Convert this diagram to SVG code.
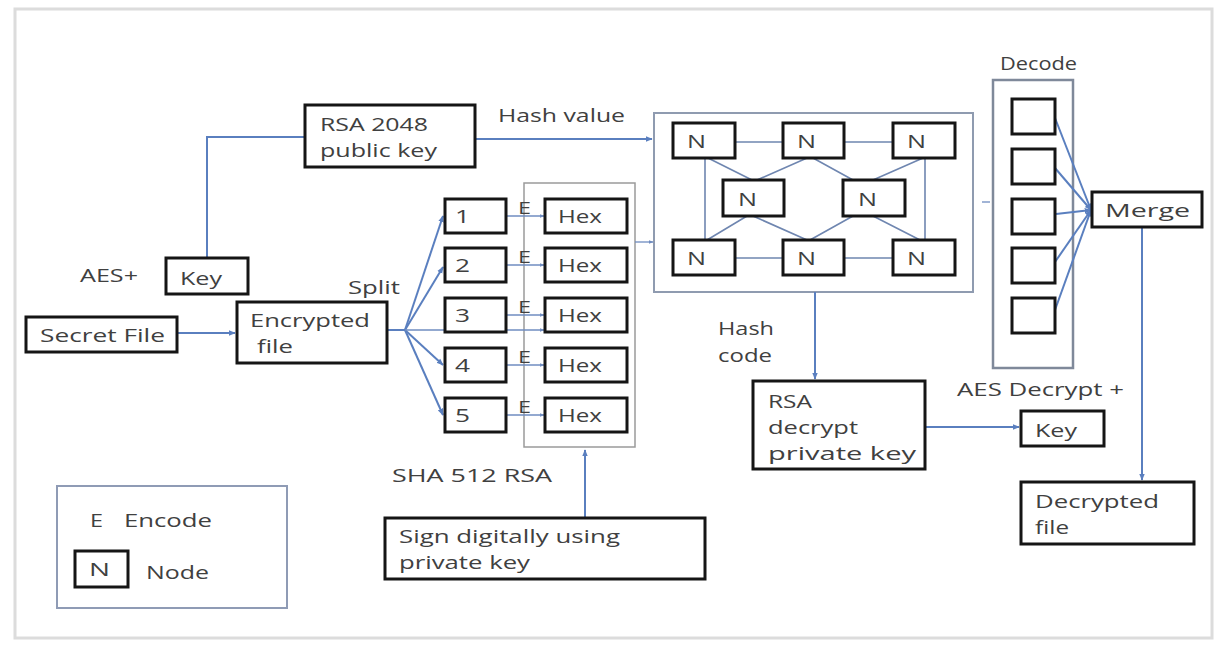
<svg xmlns="http://www.w3.org/2000/svg" width="1216" height="649" viewBox="0 0 1216 649">
  <defs>
    <marker id="arr" viewBox="0 0 10 10" refX="9" refY="5" markerWidth="7" markerHeight="7" orient="auto" markerUnits="userSpaceOnUse">
      <path d="M0,1 L10,5 L0,9 Z" fill="#5a7fbf"/>
    </marker>
    <marker id="arrs" viewBox="0 0 10 10" refX="9" refY="5" markerWidth="5" markerHeight="5" orient="auto" markerUnits="userSpaceOnUse">
      <path d="M0,1 L10,5 L0,9 Z" fill="#6f8cc0"/>
    </marker>
  </defs>
  <style>
    text { font-family: "Open Sans", "Liberation Sans", sans-serif; fill: #404040; }
    .box { fill: #ffffff; stroke: #151515; stroke-width: 3; }
    .frame { fill: none; stroke: #8f9bb0; stroke-width: 2; }
    .hexframe { fill: none; stroke: #9a9a9a; stroke-width: 1.5; }
    .link { fill: none; stroke: #5a7fbf; stroke-width: 2; }
    .thin { fill: none; stroke: #6f8cc0; stroke-width: 1.3; }
    .mesh { fill: none; stroke: #6f86b0; stroke-width: 1.6; }
    .lbl { font-size: 18.5px; }
    .sm { font-size: 18.5px; }
    .xs { font-size: 17px; }
  </style>

  <!-- page border -->
  <rect x="15" y="9" width="1197" height="629" fill="#ffffff" stroke="#dcdcdc" stroke-width="3"/>

  <!-- containers -->
  <rect id="hex-group" class="hexframe" x="524" y="183" width="111" height="264"/>
  <rect id="network" class="frame" x="654" y="113" width="319" height="179"/>
  <rect id="decode-group" x="993" y="80" width="80" height="288" fill="none" stroke="#7f899a" stroke-width="2.5"/>

  <!-- connectors -->
  <g id="connectors">
    <path class="link" d="M207,258 V137 H305"/>
    <path class="link" d="M475,139 H652" marker-end="url(#arr)"/>
    <path class="link" d="M177,333 H235" marker-end="url(#arr)"/>
    <path class="link" d="M387,330 H405"/>
    <path class="link" d="M405,330 L443,216" marker-end="url(#arr)"/>
    <path class="link" d="M405,330 L443,267" marker-end="url(#arr)"/>
    <path class="link" d="M405,330 L443,365" marker-end="url(#arr)"/>
    <path class="link" d="M405,330 L443,415" marker-end="url(#arr)"/>
    <path class="thin" d="M405,330 H544" marker-end="url(#arrs)"/>
    <path class="thin" d="M506,216 H544" marker-end="url(#arrs)"/>
    <path class="thin" d="M506,265 H544" marker-end="url(#arrs)"/>
    <path class="thin" d="M506,315 H544" marker-end="url(#arrs)"/>
    <path class="thin" d="M506,365 H544" marker-end="url(#arrs)"/>
    <path class="thin" d="M506,415 H544" marker-end="url(#arrs)"/>
    <path class="thin" d="M635,242 H653" marker-end="url(#arrs)"/>
    <path class="link" d="M585,518 V450" marker-end="url(#arr)"/>
    <path class="link" d="M815,292 V379" marker-end="url(#arr)"/>
    <path class="link" d="M925,427 H1019" marker-end="url(#arr)"/>
    <path class="thin" d="M982,202 H990"/>
    <path class="link" d="M1055,118 L1091,210" marker-end="url(#arr)"/>
    <path class="link" d="M1055,168 L1091,210" marker-end="url(#arr)"/>
    <path class="link" d="M1056,214 L1091,210" marker-end="url(#arr)"/>
    <path class="link" d="M1055,262 L1091,210" marker-end="url(#arr)"/>
    <path class="link" d="M1055,310 L1091,210" marker-end="url(#arr)"/>
    <path class="link" d="M1142,227 V480" marker-end="url(#arr)"/>
    <!-- mesh inside the network -->
    <path class="mesh" d="M735,142 H783 M844,142 H893 M735,258 H783 M844,258 H893"/>
    <path class="mesh" d="M705,158 V240 M925,158 V240"/>
    <path class="mesh" d="M708,158 L752,180 M807,158 L757,180 M813,158 L853,180 M923,158 L873,180"/>
    <path class="mesh" d="M747,216 L707,240 M753,216 L807,240 M853,216 L810,240 M873,216 L920,240"/>
  </g>

  <!-- labels on connectors -->
  <text class="lbl" x="498" y="122" textLength="127" lengthAdjust="spacingAndGlyphs">Hash value</text>
  <text class="lbl" x="80" y="282" textLength="58" lengthAdjust="spacingAndGlyphs">AES+</text>
  <text class="lbl" x="348" y="294" textLength="52" lengthAdjust="spacingAndGlyphs">Split</text>
  <text class="lbl" x="718" y="335" textLength="56" lengthAdjust="spacingAndGlyphs">Hash</text>
  <text class="lbl" x="718" y="362" textLength="54" lengthAdjust="spacingAndGlyphs">code</text>
  <text class="lbl" x="957" y="396" textLength="167" lengthAdjust="spacingAndGlyphs">AES Decrypt +</text>
  <text class="lbl" x="1000" y="70" textLength="77" lengthAdjust="spacingAndGlyphs">Decode</text>
  <text class="lbl" x="392" y="482" textLength="160" lengthAdjust="spacingAndGlyphs">SHA 512 RSA</text>
  <g class="xs">
    <text x="518" y="214" textLength="13" lengthAdjust="spacingAndGlyphs">E</text>
    <text x="518" y="263" textLength="13" lengthAdjust="spacingAndGlyphs">E</text>
    <text x="518" y="313" textLength="13" lengthAdjust="spacingAndGlyphs">E</text>
    <text x="518" y="363" textLength="13" lengthAdjust="spacingAndGlyphs">E</text>
    <text x="518" y="413" textLength="13" lengthAdjust="spacingAndGlyphs">E</text>
  </g>

  <!-- nodes -->
  <g id="rsa-public">
    <rect class="box" x="305" y="105" width="170" height="62"/>
    <text class="lbl" x="320" y="131" textLength="108" lengthAdjust="spacingAndGlyphs">RSA 2048</text>
    <text class="lbl" x="320" y="157" textLength="117" lengthAdjust="spacingAndGlyphs">public key</text>
  </g>
  <g id="key-in">
    <rect class="box" x="166" y="258" width="82" height="36"/>
    <text class="lbl" x="180" y="285" textLength="42" lengthAdjust="spacingAndGlyphs">Key</text>
  </g>
  <g id="secret-file">
    <rect class="box" x="26" y="317" width="151" height="35"/>
    <text class="lbl" x="40" y="342" textLength="125" lengthAdjust="spacingAndGlyphs">Secret File</text>
  </g>
  <g id="encrypted-file">
    <rect class="box" x="237" y="302" width="150" height="61"/>
    <text class="lbl" x="250" y="327" textLength="120" lengthAdjust="spacingAndGlyphs">Encrypted</text>
    <text class="lbl" x="257" y="353" textLength="36" lengthAdjust="spacingAndGlyphs">file</text>
  </g>

  <g id="part-1"><rect class="box" x="445" y="199" width="61" height="34"/><text class="sm" x="455" y="223" textLength="15" lengthAdjust="spacingAndGlyphs">1</text></g>
  <g id="part-2"><rect class="box" x="445" y="248" width="61" height="34"/><text class="sm" x="455" y="272" textLength="15" lengthAdjust="spacingAndGlyphs">2</text></g>
  <g id="part-3"><rect class="box" x="445" y="298" width="61" height="34"/><text class="sm" x="455" y="322" textLength="15" lengthAdjust="spacingAndGlyphs">3</text></g>
  <g id="part-4"><rect class="box" x="445" y="348" width="61" height="34"/><text class="sm" x="455" y="372" textLength="15" lengthAdjust="spacingAndGlyphs">4</text></g>
  <g id="part-5"><rect class="box" x="445" y="398" width="61" height="34"/><text class="sm" x="455" y="422" textLength="15" lengthAdjust="spacingAndGlyphs">5</text></g>

  <g id="hex-1"><rect class="box" x="545" y="199" width="82" height="34"/><text class="sm" x="558" y="223" textLength="44" lengthAdjust="spacingAndGlyphs">Hex</text></g>
  <g id="hex-2"><rect class="box" x="545" y="248" width="82" height="34"/><text class="sm" x="558" y="272" textLength="44" lengthAdjust="spacingAndGlyphs">Hex</text></g>
  <g id="hex-3"><rect class="box" x="545" y="298" width="82" height="34"/><text class="sm" x="558" y="322" textLength="44" lengthAdjust="spacingAndGlyphs">Hex</text></g>
  <g id="hex-4"><rect class="box" x="545" y="348" width="82" height="34"/><text class="sm" x="558" y="372" textLength="44" lengthAdjust="spacingAndGlyphs">Hex</text></g>
  <g id="hex-5"><rect class="box" x="545" y="398" width="82" height="34"/><text class="sm" x="558" y="422" textLength="44" lengthAdjust="spacingAndGlyphs">Hex</text></g>

  <g id="n-top-1"><rect class="box" x="673" y="123" width="62" height="35"/><text class="sm" x="687" y="148" textLength="19" lengthAdjust="spacingAndGlyphs">N</text></g>
  <g id="n-top-2"><rect class="box" x="783" y="123" width="61" height="35"/><text class="sm" x="797" y="148" textLength="19" lengthAdjust="spacingAndGlyphs">N</text></g>
  <g id="n-top-3"><rect class="box" x="893" y="123" width="62" height="35"/><text class="sm" x="907" y="148" textLength="19" lengthAdjust="spacingAndGlyphs">N</text></g>
  <g id="n-mid-1"><rect class="box" x="723" y="180" width="61" height="36"/><text class="sm" x="738" y="206" textLength="19" lengthAdjust="spacingAndGlyphs">N</text></g>
  <g id="n-mid-2"><rect class="box" x="843" y="180" width="62" height="36"/><text class="sm" x="858" y="206" textLength="19" lengthAdjust="spacingAndGlyphs">N</text></g>
  <g id="n-bot-1"><rect class="box" x="673" y="240" width="62" height="35"/><text class="sm" x="687" y="265" textLength="19" lengthAdjust="spacingAndGlyphs">N</text></g>
  <g id="n-bot-2"><rect class="box" x="783" y="240" width="61" height="35"/><text class="sm" x="797" y="265" textLength="19" lengthAdjust="spacingAndGlyphs">N</text></g>
  <g id="n-bot-3"><rect class="box" x="893" y="240" width="62" height="35"/><text class="sm" x="907" y="265" textLength="19" lengthAdjust="spacingAndGlyphs">N</text></g>

  <g id="dec-1"><rect class="box" x="1012" y="99" width="43" height="35"/></g>
  <g id="dec-2"><rect class="box" x="1012" y="149" width="43" height="35"/></g>
  <g id="dec-3"><rect class="box" x="1012" y="199" width="43" height="35"/></g>
  <g id="dec-4"><rect class="box" x="1012" y="248" width="43" height="35"/></g>
  <g id="dec-5"><rect class="box" x="1012" y="298" width="43" height="35"/></g>

  <g id="merge">
    <rect class="box" x="1092" y="192" width="110" height="35"/>
    <text class="lbl" x="1105" y="217" textLength="85" lengthAdjust="spacingAndGlyphs">Merge</text>
  </g>
  <g id="rsa-decrypt">
    <rect class="box" x="753" y="381" width="172" height="88"/>
    <text class="lbl" x="768" y="408" textLength="44" lengthAdjust="spacingAndGlyphs">RSA</text>
    <text class="lbl" x="768" y="434" textLength="90" lengthAdjust="spacingAndGlyphs">decrypt</text>
    <text class="lbl" x="768" y="460" textLength="148" lengthAdjust="spacingAndGlyphs">private key</text>
  </g>
  <g id="key-out">
    <rect class="box" x="1021" y="411" width="83" height="35"/>
    <text class="lbl" x="1035" y="437" textLength="42" lengthAdjust="spacingAndGlyphs">Key</text>
  </g>
  <g id="decrypted-file">
    <rect class="box" x="1021" y="482" width="173" height="62"/>
    <text class="lbl" x="1035" y="508" textLength="124" lengthAdjust="spacingAndGlyphs">Decrypted</text>
    <text class="lbl" x="1035" y="534" textLength="34" lengthAdjust="spacingAndGlyphs">file</text>
  </g>
  <g id="sign">
    <rect class="box" x="385" y="518" width="320" height="61"/>
    <text class="lbl" x="399" y="543" textLength="221" lengthAdjust="spacingAndGlyphs">Sign digitally using</text>
    <text class="lbl" x="399" y="569" textLength="131" lengthAdjust="spacingAndGlyphs">private key</text>
  </g>

  <!-- legend -->
  <g id="legend">
    <rect x="57" y="486" width="230" height="122" fill="none" stroke="#8f9bb5" stroke-width="2"/>
    <text class="lbl" x="90" y="527" textLength="13" lengthAdjust="spacingAndGlyphs">E</text>
    <text class="lbl" x="124" y="527" textLength="88" lengthAdjust="spacingAndGlyphs">Encode</text>
    <rect class="box" x="75" y="551" width="53" height="36"/>
    <text class="lbl" x="89" y="576" textLength="21" lengthAdjust="spacingAndGlyphs">N</text>
    <text class="lbl" x="146" y="579" textLength="63" lengthAdjust="spacingAndGlyphs">Node</text>
  </g>
</svg>
